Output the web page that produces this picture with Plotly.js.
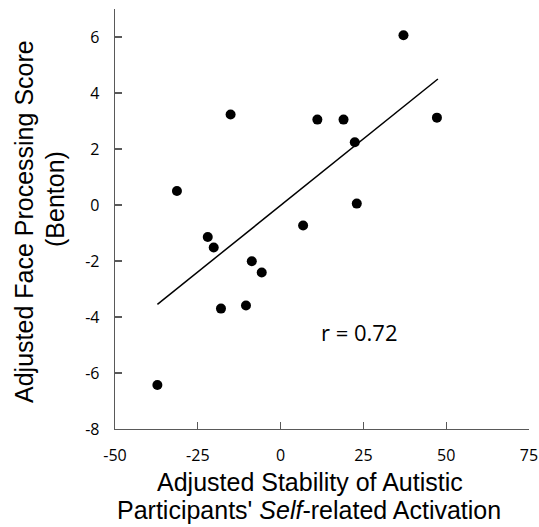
<!DOCTYPE html>
<html>
<head>
<meta charset="utf-8">
<script src="https://cdn.plot.ly/plotly-3.0.1.min.js"></script>
<style>html,body{margin:0;padding:0;background:#fff;}#chart{width:539px;height:527px;}</style>
</head>
<body>
<div id="chart"></div>
<script>
// Data
const stability = [-15.1, -31.3, -22.0, -20.2, -18.0, -10.45, -8.7, -5.7, -37.2, 37.1, 11.1, 19.0, 47.2, 22.4, 23.0, 6.8];
const faceScore = [3.23, 0.5, -1.14, -1.52, -3.70, -3.59, -2.01, -2.41, -6.43, 6.06, 3.05, 3.05, 3.12, 2.24, 0.05, -0.73];
const fitX = [-37.2, 47.5];
const fitY = [-3.55, 4.5];
const xTicks = [-50, -25, 0, 25, 50, 75];
const yTicks = [-8, -6, -4, -2, 0, 2, 4, 6];
const rLabel = 'r = 0.72';
const xTitleLines = ['Adjusted Stability of Autistic', "Participants' <i>Self</i>-related Activation"];
const yTitleLines = ['Adjusted Face Processing Score', '(Benton)'];

const traces = [
  {x: stability, y: faceScore, type: 'scatter', mode: 'markers',
   marker: {color: '#000', size: 10}, hoverinfo: 'x+y'},
  {x: fitX, y: fitY, type: 'scatter', mode: 'lines',
   line: {color: '#000', width: 1.5}, hoverinfo: 'skip'}
];

const axisCommon = {
  showgrid: false, zeroline: false, showline: true,
  linecolor: '#595959', linewidth: 1.3,
  ticks: 'inside', ticklen: 7, tickcolor: '#595959', tickwidth: 1.3,
  tickfont: {family: 'Open Sans, sans-serif', size: 16, color: '#000'}
};

const titleFont = {family: 'Liberation Sans, Arial, sans-serif', size: 25, color: '#000'};
const plotL = 115, plotR = 529, plotT = 9, plotB = 429;
const px2paperX = p => (p - plotL) / (plotR - plotL);
const px2paperY = p => (plotB - p) / (plotB - plotT);

const annotations = [
  {x: 23.9, y: -4.54, xref: 'x', yref: 'y', text: rLabel, showarrow: false,
   font: {family: 'Open Sans, sans-serif', size: 22, color: '#000'}},
  {x: px2paperX(310), y: px2paperY(482), xref: 'paper', yref: 'paper', text: xTitleLines[0],
   showarrow: false, xanchor: 'center', yanchor: 'middle', font: titleFont},
  {x: px2paperX(309), y: px2paperY(510), xref: 'paper', yref: 'paper', text: xTitleLines[1],
   showarrow: false, xanchor: 'center', yanchor: 'middle', font: titleFont},
  {x: px2paperX(24), y: px2paperY(222), xref: 'paper', yref: 'paper', text: yTitleLines[0],
   showarrow: false, xanchor: 'center', yanchor: 'middle', textangle: -90, font: titleFont},
  {x: px2paperX(55), y: px2paperY(199), xref: 'paper', yref: 'paper', text: yTitleLines[1],
   showarrow: false, xanchor: 'center', yanchor: 'middle', textangle: -90, font: titleFont}
];

const layout = {
  width: 539, height: 527,
  margin: {l: plotL, r: 539 - plotR, t: plotT, b: 527 - plotB},
  paper_bgcolor: '#fff', plot_bgcolor: '#fff',
  showlegend: false,
  xaxis: Object.assign({}, axisCommon, {
    range: [-50, 75], tickvals: xTicks, ticktext: xTicks.map(String),
    ticklabelstandoff: 11
  }),
  yaxis: Object.assign({}, axisCommon, {
    range: [-8, 7], tickvals: yTicks, ticktext: yTicks.map(String),
    ticklabelstandoff: 11
  }),
  annotations: annotations
};

Plotly.newPlot('chart', traces, layout, {displayModeBar: false, staticPlot: true});
</script>
</body>
</html>
